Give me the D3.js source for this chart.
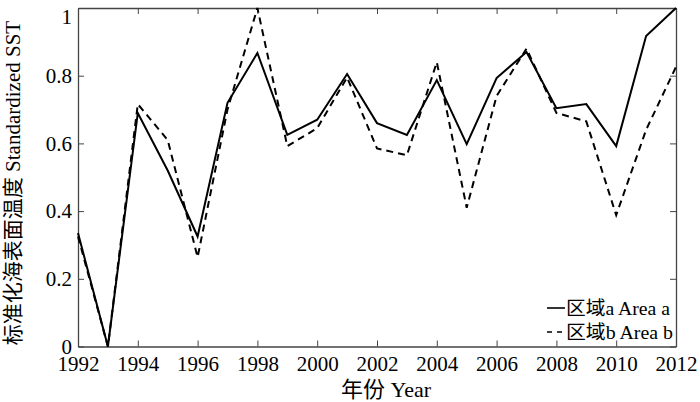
<!DOCTYPE html>
<html><head><meta charset="utf-8">
<script src="https://cdn.jsdelivr.net/npm/d3@7"></script>
<style>body{margin:0;background:#fff}svg{display:block}text{font-family:'Liberation Serif','Noto Sans CJK SC',serif}</style>
</head><body>
<svg id="c" width="700" height="402"></svg>
<script>
const years = d3.range(1992, 2013);
const areaA = [0.335,0,0.69,0.52,0.325,0.72,0.867,0.625,0.67,0.805,0.66,0.625,0.787,0.598,0.793,0.87,0.704,0.716,0.592,0.917,1.0];
const areaB = [0.325,0,0.716,0.61,0.264,0.70,1.0,0.592,0.645,0.795,0.585,0.565,0.84,0.41,0.74,0.88,0.69,0.665,0.388,0.64,0.826];
const xTicks = [1992,1994,1996,1998,2000,2002,2004,2006,2008,2010,2012];
const yTicks = [0,0.2,0.4,0.6,0.8,1];
const seriesNames = ["区域a Area a","区域b Area b"];

const svg = d3.select("#c");
const L=78,R=676,T=8,B=346.5;
const x = d3.scaleLinear().domain([1992,2012]).range([L,R]);
const y = d3.scaleLinear().domain([0,1]).range([B,T]);
const font = "'Liberation Serif','Noto Sans CJK SC',serif";
const axCol = "#444";

const tk = 6;
const gx = svg.append("g").attr("transform",`translate(0,${B})`)
  .call(d3.axisBottom(x).tickValues(xTicks).tickFormat(d3.format("d")).tickSizeInner(-tk).tickSizeOuter(0).tickPadding(10));
const gxt = svg.append("g").attr("transform",`translate(0,${T})`)
  .call(d3.axisTop(x).tickValues(xTicks).tickFormat("").tickSizeInner(-tk).tickSizeOuter(0));
const gy = svg.append("g").attr("transform",`translate(${L},0)`)
  .call(d3.axisLeft(y).tickValues(yTicks).tickFormat(d=>d===0||d===1?String(d):d3.format(".1f")(d)).tickSizeInner(-tk).tickSizeOuter(0).tickPadding(6));
const gyr = svg.append("g").attr("transform",`translate(${R},0)`)
  .call(d3.axisRight(y).tickValues(yTicks).tickFormat("").tickSizeInner(-tk).tickSizeOuter(0));
[gx,gxt,gy,gyr].forEach(g=>{
  g.attr("font-family",font).attr("font-size",21);
  g.selectAll("path").attr("stroke",axCol).attr("stroke-width",1.3);
  g.selectAll("line").attr("stroke",axCol).attr("stroke-width",1);
  g.selectAll("text").attr("fill","#000").attr("font-family",font).style("font-family",font).style("font-size","21px");
});
gy.selectAll(".tick text").filter(d=>d===1).attr("dy","0.75em");

const line = d3.line().x((d,i)=>x(years[i])).y(d=>y(d));
svg.append("path").datum(areaA).attr("d",line).attr("fill","none").attr("stroke","#000").attr("stroke-width",2);
svg.append("path").datum(areaB).attr("d",line).attr("fill","none").attr("stroke","#000").attr("stroke-width",2).attr("stroke-dasharray","7,5");

const lg = svg.append("g");
const rows=[{y:308,dash:null},{y:332,dash:"5,5"}];
rows.forEach((r,i)=>{
  lg.append("line").attr("x1",547).attr("x2",565).attr("y1",r.y).attr("y2",r.y)
    .attr("stroke","#000").attr("stroke-width",1.6).attr("stroke-dasharray",r.dash);
  lg.append("text").attr("x",566).attr("y",r.y+7).text(seriesNames[i])
    .attr("font-family",font).style("font-size","19px").attr("textLength",i===0?104:107).attr("lengthAdjust","spacingAndGlyphs");
});

svg.append("text").attr("x",386).attr("y",397).attr("text-anchor","middle")
  .attr("font-family",font).style("font-size","22px").text("年份 Year");
svg.append("text").attr("transform","translate(20,183) rotate(-90)").attr("text-anchor","middle")
  .attr("font-family",font).style("font-size","21px").text("标准化海表面温度 Standardized SST");
</script>
</body></html>
